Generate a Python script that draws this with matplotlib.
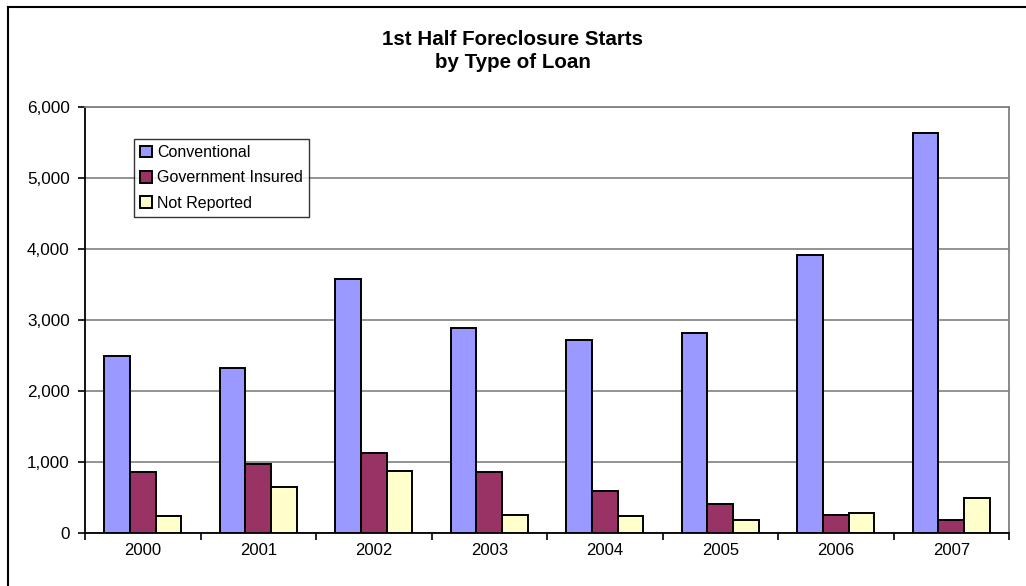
import numpy as np
import matplotlib.pyplot as plt
from matplotlib.lines import Line2D
from matplotlib.ticker import FuncFormatter, MultipleLocator

plt.rcParams['font.family'] = ['Liberation Sans', 'DejaVu Sans']

years = ['2000', '2001', '2002', '2003', '2004', '2005', '2006', '2007']
conventional = [2500, 2320, 3580, 2885, 2715, 2820, 3910, 5635]
government = [855, 975, 1130, 855, 585, 410, 260, 190]
not_reported = [235, 645, 880, 260, 235, 185, 275, 490]

series = [
    ('Conventional', conventional, '#9999FF'),
    ('Government Insured', government, '#993366'),
    ('Not Reported', not_reported, '#FFFFCC'),
]

fig = plt.figure(figsize=(10.26, 5.86), dpi=100)
ax = fig.add_axes([85 / 1026, 1 - 533 / 586, 924 / 1026, 426 / 586])

x = np.arange(len(years))
w = 0.222
for i, (name, vals, col) in enumerate(series):
    ax.bar(x + (i - 1) * w, vals, width=w, color=col, edgecolor='black',
           linewidth=1.4, label=name, zorder=3)

ax.set_xlim(-0.5, len(years) - 0.5)
ax.set_ylim(0, 6000)
ax.yaxis.set_major_locator(MultipleLocator(1000))
ax.yaxis.set_major_formatter(FuncFormatter(lambda v, p: f'{int(v):,}'))
ax.grid(axis='y', color='#808080', linewidth=1.2, zorder=0)
ax.set_axisbelow(True)

ax.set_xticks(x)
ax.set_xticklabels(years)
ax.set_xticks(np.arange(len(years) + 1) - 0.5, minor=True)
ax.tick_params(axis='x', which='major', length=0, pad=7, labelsize=12)
ax.tick_params(axis='x', which='minor', length=5, width=1.2, direction='out')
ax.tick_params(axis='y', length=5, width=1.2, direction='out', pad=6, labelsize=12.3)

for s in ['left', 'bottom']:
    ax.spines[s].set_color('black')
    ax.spines[s].set_linewidth(1.3)
for s in ['top', 'right']:
    ax.spines[s].set_color('#808080')
    ax.spines[s].set_linewidth(1.3)

leg = ax.legend(loc='upper left', bbox_to_anchor=(49 / 924, 1 - 32 / 426),
                fontsize=11.5, frameon=True, fancybox=False, edgecolor='black',
                handlelength=0.75, handleheight=0.75, handletextpad=0.3,
                labelspacing=0.65, borderpad=0.38, borderaxespad=0)
leg.get_frame().set_linewidth(1.0)
for h in leg.legend_handles:
    h.set_linewidth(1.4)

fig.text(0.5, 1 - 51 / 586, '1st Half Foreclosure Starts\nby Type of Loan',
         ha='center', va='center', fontsize=14.8, fontweight='bold', linespacing=1.3)

# chart frame (top and left edges)
fig.add_artist(Line2D([7.5 / 1026, 1], [1 - 6.5 / 586, 1 - 6.5 / 586],
                      color='black', linewidth=1.5, transform=fig.transFigure))
fig.add_artist(Line2D([7.5 / 1026, 7.5 / 1026], [0, 1 - 6.5 / 586],
                      color='black', linewidth=1.5, transform=fig.transFigure))

fig.savefig('out.png', dpi=100)
